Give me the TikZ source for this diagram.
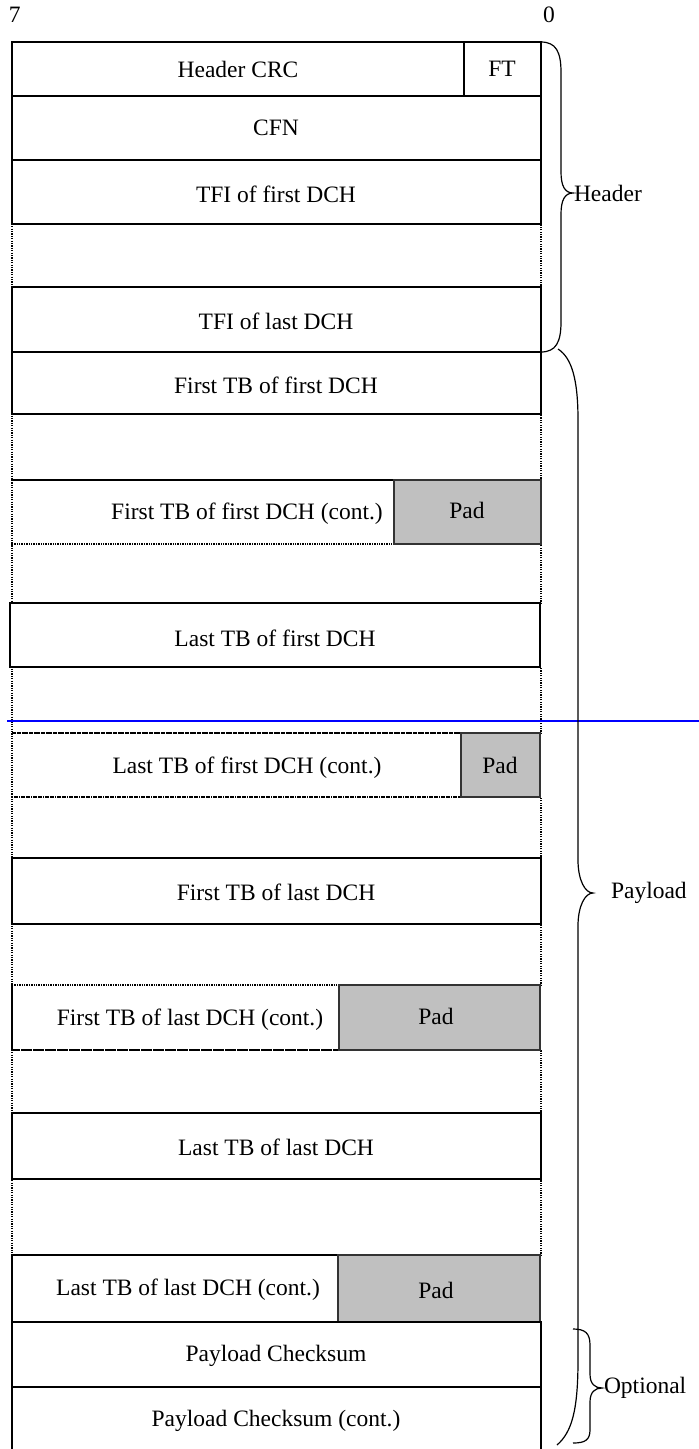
\documentclass[tikz,border=0pt]{standalone}
\usepackage{fontspec}
\setmainfont{Liberation Serif}
\begin{document}
\begin{tikzpicture}[x=1pt,y=-1pt,
  every node/.style={font=\fontsize{23.5}{26}\selectfont, inner sep=0pt, outer sep=0pt},
  solidbox/.style={draw=black, line width=1.2pt, rectangle, anchor=north west},
  dotbox/.style={draw=black, line width=1.5pt, dash pattern=on 1.2pt off 1.2pt, rectangle, anchor=north west},
  padbox/.style={draw=black!80, line width=1.2pt, fill=padgray, rectangle, anchor=north west},
  bracestyle/.style={draw=black, line width=1.2pt},
  txt/.style={anchor=center}
]
\definecolor{padgray}{RGB}{192,192,192}
\useasboundingbox (0,0) rectangle (699,1449);
\fill[white] (0,0) rectangle (699,1449);

% bit labels
\node[anchor=west] (b7) at (9,15) {7};
\node[anchor=west] (b0) at (543,15) {0};

% dotted gap rows
\node[dotbox, minimum width=529pt, minimum height=63pt] (d1) at (12,224) {};
\node[dotbox, minimum width=529pt, minimum height=66pt] (d2) at (12,414) {};
\node[dotbox, minimum width=529pt, minimum height=59pt] (d3) at (12,544) {};
\node[dotbox, minimum width=529pt, minimum height=66pt] (d4) at (12,667) {};
\node[dotbox, minimum width=529pt, minimum height=61pt] (d5) at (12,797) {};
\node[dotbox, minimum width=529pt, minimum height=61pt] (d6) at (12,924) {};
\node[dotbox, minimum width=529pt, minimum height=63pt] (d7) at (12,1050) {};
\node[dotbox, minimum width=529pt, minimum height=76pt] (d8) at (12,1179) {};

% header rows
\node[solidbox, minimum width=452pt, minimum height=54pt] (hcrc) at (12,42) {};
\node[txt] at (238,69) {Header CRC};
\node[solidbox, minimum width=77pt, minimum height=54pt] (ft) at (464,42) {};
\node[txt] at (502,69) {FT};
\node[solidbox, minimum width=529pt, minimum height=64pt] (cfn) at (12,96) {};
\node[txt] at (276,128) {CFN};
\node[solidbox, minimum width=529pt, minimum height=64pt] (tfi1) at (12,160) {};
\node[txt] at (276,194) {TFI of first DCH};
\node[solidbox, minimum width=529pt, minimum height=65pt] (tfin) at (12,287) {};
\node[txt] at (276,321) {TFI of last DCH};

% payload rows
\node[solidbox, minimum width=529pt, minimum height=62pt] (tb11) at (12,352) {};
\node[txt] at (276,385) {First TB of first DCH};

\node[dotbox, minimum width=382pt, minimum height=64pt] (tb11c) at (12,480) {};
\node[padbox, minimum width=147pt, minimum height=64pt] (pad1) at (394,480) {};
\node[txt] at (247,514) {First TB of first DCH (cont.)};
\node[txt] at (467,510) {Pad};

\node[solidbox, minimum width=530pt, minimum height=64pt] (tb1n) at (10,603) {};
\node[txt] at (275,638) {Last TB of first DCH};

\node[dotbox, minimum width=449pt, minimum height=64pt] (tb1nc) at (12,733) {};
\node[padbox, minimum width=79pt, minimum height=64pt] (pad2) at (461,733) {};
\node[txt] at (247,768) {Last TB of first DCH (cont.)};
\node[txt] at (500,765) {Pad};

\node[solidbox, minimum width=529pt, minimum height=66pt] (tbn1) at (12,858) {};
\node[txt] at (276,892) {First TB of last DCH};

\node[dotbox, minimum width=327pt, minimum height=65pt] (tbn1c) at (12,985) {};
\draw[line width=1.2pt] (tbn1c.north west) -- (tbn1c.south west);
\node[padbox, minimum width=201pt, minimum height=65pt] (pad3) at (339,985) {};
\node[txt] at (190,1020) {First TB of last DCH (cont.)};
\node[txt] at (436,1016) {Pad};

\node[solidbox, minimum width=529pt, minimum height=66pt] (tbnn) at (12,1113) {};
\node[txt] at (276,1147) {Last TB of last DCH};

\node[solidbox, minimum width=326pt, minimum height=67pt] (tbnnc) at (12,1255) {};
\node[padbox, minimum width=202pt, minimum height=67pt] (pad4) at (338,1255) {};
\node[txt] at (188,1290) {Last TB of last DCH (cont.)};
\node[txt] at (436,1290) {Pad};

\node[solidbox, minimum width=529pt, minimum height=65pt] (pcs) at (12,1322) {};
\node[txt] at (276,1356) {Payload Checksum};
\node[solidbox, minimum width=529pt, minimum height=70pt] (pcsc) at (12,1387) {};
\node[txt] at (276,1421) {Payload Checksum (cont.)};

% blue line
\coordinate (bl1) at (7,721);
\coordinate (bl2) at (699,721);
\draw[blue, line width=1.5pt] (bl1) -- (bl2);

% braces
\draw[bracestyle] (541,42) .. controls (556,42) and (561,52) .. (561,72) -- (561,172)
  .. controls (561,186) and (565,193) .. (573,193)
  .. controls (565,193) and (561,200) .. (561,214) -- (561,322)
  .. controls (561,342) and (556,352) .. (541,352);
\node[anchor=west] (hlab) at (574,193) {Header};

\draw[bracestyle] (558,349) .. controls (572,358) and (578,380) .. (578,420) -- (578,860)
  .. controls (578,880) and (585,893) .. (593,893)
  .. controls (585,893) and (578,906) .. (578,926) -- (578,1360)
  .. controls (578,1410) and (572,1432) .. (557,1445);
\node[anchor=west] (plab) at (611,893) {Payload};

\draw[bracestyle] (573,1329) .. controls (585,1329) and (590,1333) .. (590,1345) -- (590,1374)
  .. controls (590,1384) and (595,1388) .. (602,1388)
  .. controls (595,1388) and (590,1392) .. (590,1402) -- (590,1430)
  .. controls (590,1440) and (585,1443) .. (573,1443);
\node[anchor=west] (olab) at (604,1388) {Optional};
\end{tikzpicture}
\end{document}
